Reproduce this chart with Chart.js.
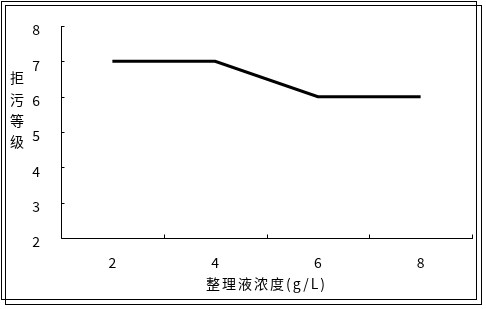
<!DOCTYPE html>
<html><head><meta charset="utf-8">
<script src="https://cdn.jsdelivr.net/npm/chart.js@4/dist/chart.umd.min.js"></script>
<style>html,body{margin:0;padding:0;background:#fff}#wrap{width:486px;height:309px;position:relative}</style>
</head><body><div id="wrap"><canvas id="c" width="486" height="309"></canvas></div>
<script>
const categories = ['2', '4', '6', '8'];
const values = [7, 7, 6, 6];
const yTicks = [2, 3, 4, 5, 6, 7, 8];
const xTitle = '整理液浓度(g/L)';
const yTitle = ['拒', '污', '等', '级'];

const FONT = '"Noto Sans CJK SC", "DejaVu Sans", sans-serif';

const decor = {
  id: 'decor',
  afterDraw(chart) {
    const ctx = chart.ctx;
    const a = chart.chartArea;
    const xs = chart.scales.x, ys = chart.scales.y;
    ctx.save();
    ctx.strokeStyle = '#000';
    ctx.lineWidth = 1;
    // outer double frame
    ctx.strokeRect(1.5, 1.5, 475, 298);
    ctx.strokeRect(5.5, 5.5, 476, 299);
    // axes
    const L = Math.round(a.left) + 0.5, B = Math.round(a.bottom) + 0.5;
    ctx.beginPath();
    ctx.moveTo(L, Math.round(a.top));
    ctx.lineTo(L, B);
    ctx.lineTo(Math.round(a.right) + 1, B);
    ctx.stroke();
    // y ticks (inside)
    ctx.beginPath();
    yTicks.forEach(v => {
      const y = Math.round(ys.getPixelForValue(v)) + 0.5;
      ctx.moveTo(L, y); ctx.lineTo(L + 3, y);
    });
    // x ticks at category boundaries (inside)
    for (let i = 1; i <= categories.length; i++) {
      const x = Math.round(xs.getPixelForValue(i - 0.5)) + 0.5;
      ctx.moveTo(x, B); ctx.lineTo(x, B - 4);
    }
    ctx.stroke();
    // titles
    ctx.fillStyle = '#000';
    ctx.font = '14px ' + FONT;
    ctx.textAlign = 'center';
    ctx.textBaseline = 'middle';
    try { ctx.letterSpacing = '2px'; } catch (e) {}
    ctx.fillText(xTitle, (a.left + a.right) / 2, 284);
    try { ctx.letterSpacing = '0px'; } catch (e) {}
    yTitle.forEach((ch, i) => ctx.fillText(ch, 17, 78 + i * 21.3));
    ctx.restore();
  }
};

new Chart(document.getElementById('c'), {
  type: 'line',
  data: {
    labels: categories,
    datasets: [{
      data: values,
      borderColor: '#000',
      borderWidth: 3,
      pointRadius: 0,
      tension: 0,
      fill: false
    }]
  },
  options: {
    responsive: false,
    animation: false,
    devicePixelRatio: 1,
    layout: { padding: { left: 0, top: 26, right: 14, bottom: 0 } },
    plugins: { legend: { display: false }, tooltip: { enabled: false } },
    scales: {
      x: {
        offset: true,
        grid: { display: false, offset: true },
        border: { display: false },
        ticks: { color: '#000', font: { family: FONT, size: 14 }, padding: 8, maxRotation: 0 },
        afterFit(s) { s.height = 71; }
      },
      y: {
        min: 2, max: 8,
        afterBuildTicks(s) { s.ticks = yTicks.map(v => ({ value: v })); },
        grid: { display: false },
        border: { display: false },
        ticks: { color: '#000', font: { family: FONT, size: 14 }, padding: 13, labelOffset: 4 },
        afterFit(s) { s.width = 61; }
      }
    }
  },
  plugins: [decor]
});
</script></body></html>
